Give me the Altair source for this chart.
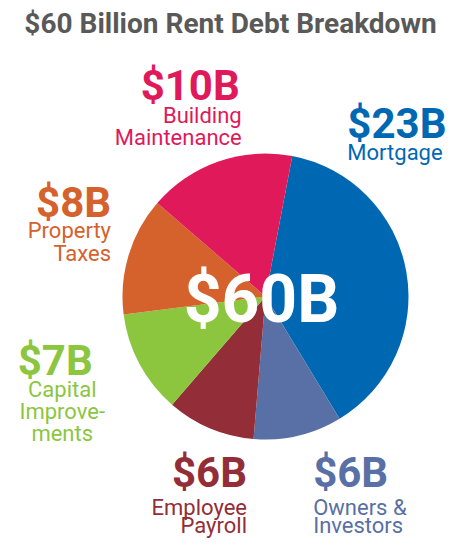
import math
import altair as alt
import pandas as pd

# ---- data ----
categories = ["Mortgage", "Owners & Investors", "Employee Payroll",
              "Capital Improvements", "Property Taxes", "Building Maintenance"]
values = [23, 6, 6, 7, 8, 10]
value_labels = ["$23B", "$6B", "$6B", "$7B", "$8B", "$10B"]
name_labels = ["Mortgage", "Owners &\nInvestors", "Employee\nPayroll",
               "Capital\nImprove-\nments", "Property\nTaxes", "Building\nMaintenance"]
colors = ["#0068B3", "#5870A5", "#932D37", "#8CC63F", "#D5622C", "#E0195A"]
total_label = "$60B"
title_text = "$60 Billion Rent Debt Breakdown"

# ---- layout / style (not data) ----
W, H = 448, 530
CX, CY = 257.5, 288.5          # pie centre inside the plot area
R = 143                         # pie radius
R_LBL = 200                     # label anchor radius
START = math.radians(10.8)      # rotation of the first slice
FONT = "Roboto"
label_layout = {
    "Mortgage":             dict(align="left",   dx=-115, dy=-123, ndx=-115, ndy=22, lh=22),
    "Owners & Investors":   dict(align="left",   dx=2,    dy=-4,   ndx=2,    ndy=28, lh=18),
    "Employee Payroll":     dict(align="right",  dx=59,   dy=6,    ndx=59,   ndy=28, lh=18),
    "Capital Improvements": dict(align="center", dx=-34,  dy=-16,  ndx=-27,  ndy=22, lh=22),
    "Property Taxes":       dict(align="right",  dx=37,   dy=-22,  ndx=37,   ndy=21, lh=23),
    "Building Maintenance": dict(align="right",  dx=40,   dy=-8,   ndx=42,   ndy=23, lh=22),
}

df = pd.DataFrame({
    "category": categories,
    "value": values,
    "order": list(range(len(categories))),
    "value_label": value_labels,
    "name_label": name_labels,
})
df["mid"] = df["value"].cumsum() - df["value"] / 2
total = float(sum(values))

theta_scale = alt.Scale(domain=[0, total], range=[START, START + 2 * math.pi])
color_scale = alt.Scale(domain=categories, range=colors)
color_enc = alt.Color("category:N", scale=color_scale, legend=None)

base = alt.Chart(df)

pie = base.mark_arc(outerRadius=R, innerRadius=0).encode(
    theta=alt.Theta("value:Q", stack=True, scale=theta_scale),
    order=alt.Order("order:Q"),
    color=color_enc,
    x=alt.value(CX),
    y=alt.value(CY),
)

layers = [pie]
for cat in categories:
    lay = label_layout[cat]
    sub = base.transform_filter(alt.datum.category == cat)
    val = sub.mark_text(
        align=lay["align"], baseline="alphabetic", radius=R_LBL,
        dx=lay["dx"], dy=lay["dy"], font=FONT, fontSize=42, fontWeight="bold",
    ).encode(
        theta=alt.Theta("mid:Q", scale=theta_scale),
        text="value_label:N",
        color=color_enc,
        x=alt.value(CX),
        y=alt.value(CY),
    )
    name = sub.mark_text(
        align=lay["align"], baseline="alphabetic", radius=R_LBL,
        dx=lay["ndx"], dy=lay["dy"] + lay["ndy"], font=FONT, fontSize=22,
        lineBreak="\n", lineHeight=lay["lh"],
    ).encode(
        theta=alt.Theta("mid:Q", scale=theta_scale),
        text="name_label:N",
        color=color_enc,
        x=alt.value(CX),
        y=alt.value(CY),
    )
    layers += [val, name]

center = alt.Chart(pd.DataFrame({"label": [total_label]})).mark_text(
    align="center", baseline="alphabetic", font=FONT, fontSize=66,
    fontWeight="bold", color="white", dx=-4, dy=25,
).encode(
    text="label:N",
    x=alt.value(CX),
    y=alt.value(CY),
)
layers.append(center)

title = alt.Chart(pd.DataFrame({"title": [title_text]})).mark_text(
    align="center", baseline="alphabetic", font=FONT, fontSize=28,
    fontWeight="bold", color="#595959",
).encode(
    text="title:N",
    x=alt.value(222.5),
    y=alt.value(25),
)
layers.append(title)

chart = alt.layer(*layers).properties(
    width=W,
    height=H,
    autosize=alt.AutoSizeParams(type="none"),
    padding=0,
    background="white",
).configure_view(stroke=None)

chart.save("out.html", embed_options={"renderer": "svg", "actions": False})
